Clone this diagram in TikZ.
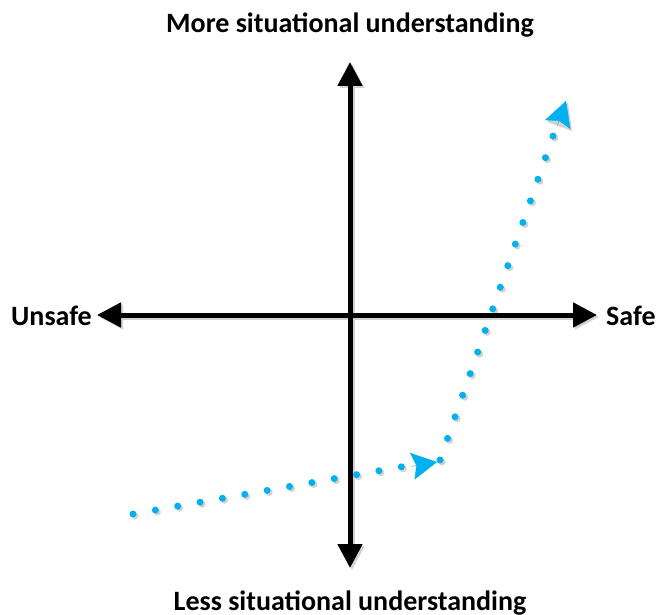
\documentclass[tikz,border=0pt]{standalone}
\usepackage{fontspec}
\setmainfont{Carlito}
\usetikzlibrary{arrows.meta,calc}
\definecolor{dotblue}{RGB}{0,176,240}
\definecolor{shadowgray}{RGB}{210,210,210}
\begin{document}
\begin{tikzpicture}[x=1pt,y=-1pt,
  axisline/.style={line width=5pt,
    {Triangle[length=24pt,width=24pt]}-{Triangle[length=24pt,width=24pt]}},
  dotpath/.style={line width=7pt, line cap=round},
  bluehead/.style={line width=0.4pt, -{Stealth[length=25pt,width=27pt,inset=4pt]}},
  label/.style={font=\fontsize{28}{32}\selectfont\bfseries, inner sep=0pt}
]
\useasboundingbox (0,0) rectangle (659,615);
% key points
\coordinate (L) at (97,315);
\coordinate (R) at (597,315);
\coordinate (T) at (350,62);
\coordinate (B) at (350,568);
\coordinate (s) at (133,514);
\coordinate (m) at (440,460);
\coordinate (e) at (553,136);
\coordinate (tip1) at (437,462);
\coordinate (tip2) at (566,101);
\coordinate (b1) at ($(tip1)!26pt!(s)$);
\coordinate (b2) at ($(tip2)!26pt!(m)$);
% shadows
\begin{scope}[transform canvas={shift={(2pt,-2pt)}}]
  \draw[axisline, shadowgray] (L) -- (R);
  \draw[axisline, shadowgray] (T) -- (B);
  \draw[dotpath, shadowgray, dash pattern=on 0pt off 22.7pt] (s) -- (m);
  \draw[dotpath, shadowgray, dash pattern=on 0pt off 22.87pt] (m) -- (e);
  \draw[bluehead, shadowgray, draw=none] (b1) -- (tip1);
  \fill[shadowgray] (tip2) -- ++(-21,19) -- ++(25,9) -- cycle;
\end{scope}
% axes
\draw[axisline] (L) -- (R);
\draw[axisline] (T) -- (B);
% dotted path
\draw[dotpath, dotblue, dash pattern=on 0pt off 22.7pt] (s) -- (m);
\draw[dotpath, dotblue, dash pattern=on 0pt off 22.87pt] (m) -- (e);
\draw[bluehead, dotblue] (b1) -- (tip1);
\draw[bluehead, dotblue] (b2) -- (tip2);
% labels
\node[label] (top) at (350,25) {More situational understanding};
\node[label] (bot) at (350,603) {Less situational understanding};
\node[label, anchor=east] (uns) at (92,316) {Unsafe};
\node[label, anchor=west] (saf) at (606,316) {Safe};
\end{tikzpicture}
\end{document}
